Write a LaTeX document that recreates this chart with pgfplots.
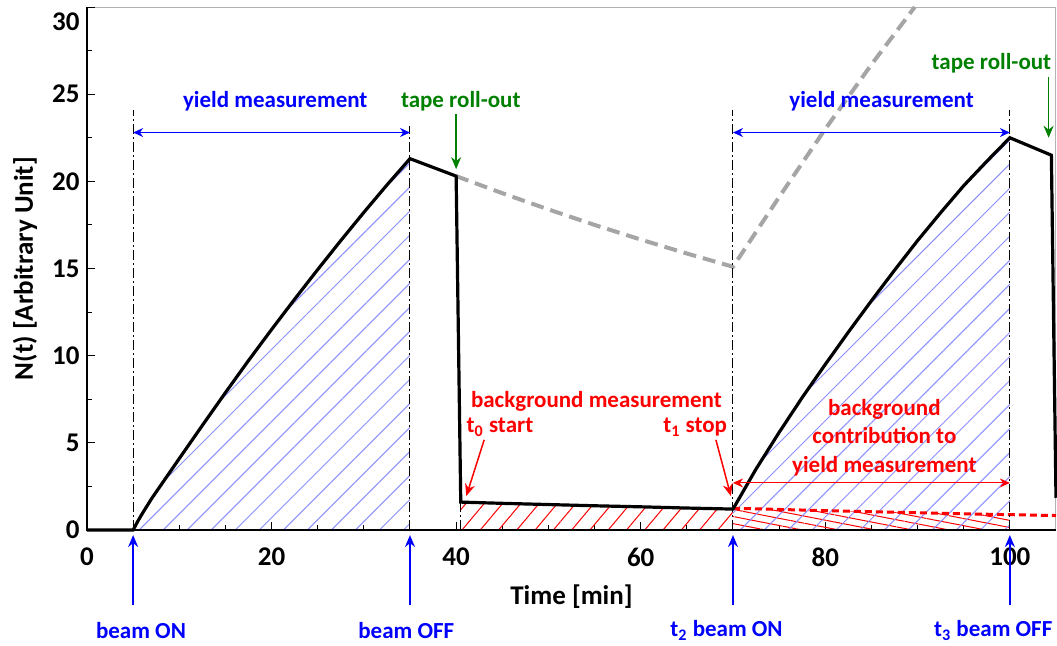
\documentclass[border=0pt]{standalone}
\usepackage{fontspec}
\setmainfont{Carlito}
\usepackage{pgfplots}
\pgfplotsset{compat=1.18}
\usetikzlibrary{patterns.meta,arrows.meta}
\definecolor{hblue}{RGB}{140,140,255}
\definecolor{dgreen}{RGB}{0,128,0}
\definecolor{dgray}{RGB}{165,165,165}
\definecolor{myred}{RGB}{255,0,0}
\definecolor{myblue}{RGB}{0,0,255}
\newcommand{\af}{\fontsize{11.5}{14.25}\selectfont\bfseries}
\begin{document}
\begin{tikzpicture}
\path[use as bounding box] (-43.5pt,-57.5pt) rectangle (485pt,265pt);
\begin{axis}[
  at={(0,0)}, anchor=south west,
  scale only axis, width=484.5pt, height=261.5pt,
  xmin=0, xmax=105, ymin=0, ymax=30,
  clip=false,
  axis line style={draw=gray!60, line width=0.5pt},
  xtick={0,20,...,100}, minor x tick num=3,
  ytick={0,5,...,25}, minor ytick={2.5,7.5,...,27.5},
  extra y ticks={30},
  extra y tick style={yticklabel style={yshift=-7.5pt}},
  tick pos=left, tick align=inside,
  major tick length=4pt, minor tick length=2.5pt,
  every tick/.style={black, line width=0.5pt},
  /pgf/number format/assume math mode=true,
  ticklabel style={font=\fontsize{13.5}{14}\selectfont\bfseries},
  xticklabel style={anchor=center, yshift=-13.5pt},
  yticklabel style={anchor=east, inner sep=0pt, xshift=-3.5pt},
  xlabel={Time [min]}, ylabel={N(t) [Arbitrary Unit]},
  label style={font=\fontsize{13.5}{14}\selectfont\bfseries},
  xlabel style={at={(axis description cs:0.5,0)}, anchor=center, yshift=-33.5pt},
  ylabel style={at={(axis description cs:-0.064,0.5)}, anchor=center},
]
% hatched areas
\addplot[draw=none, pattern={Lines[angle=45,distance=8.5pt,line width=0.5pt]}, pattern color=hblue]
 coordinates {(5,0) (5.5,0.5) (6,0.95) (7,1.8) (8.5,2.95) (10,4.1) (12.5,6.0) (15,7.88) (17.5,9.72) (20,11.5) (22.5,13.24) (25,14.94) (27.5,16.6) (30,18.22) (32.5,19.79) (35,21.3)} \closedcycle;
\addplot[draw=none, pattern={Lines[angle=50,distance=7pt,line width=0.5pt]}, pattern color=myred]
 coordinates {(40.5,1.6) (45,1.53) (50,1.46) (55,1.39) (60,1.33) (65,1.26) (70,1.2)} \closedcycle;
\addplot[draw=none, pattern={Lines[angle=-11,distance=3.5pt,line width=0.5pt]}, pattern color=myred]
 coordinates {(70,1.25) (75,1.18) (80,1.11) (85,1.05) (90,0.99) (95,0.93) (100,0.88)} \closedcycle;
\addplot[draw=none, pattern={Lines[angle=45,distance=8.5pt,line width=0.5pt]}, pattern color=hblue]
 coordinates {(70,1.2) (72.5,3.5) (75,5.6) (77.5,7.6) (80,9.5) (82.5,11.35) (85,13.15) (87.5,14.9) (90,16.6) (92.5,18.2) (95,19.75) (97.5,21.15) (100,22.5)} \closedcycle;
% gray dashed continuation
\addplot[dgray, line width=2pt, dash pattern=on 6.5pt off 3.5pt]
 coordinates {(40,20.3) (45,19.32) (50,18.39) (55,17.5) (60,16.66) (65,15.86) (70,15.1) (75,19.1) (80,23.0) (85,26.7) (89.7,30)};
% red dashed background
\addplot[myred, line width=1.5pt, dash pattern=on 3.5pt off 2pt]
 coordinates {(70,1.25) (75,1.18) (80,1.11) (85,1.05) (90,0.99) (95,0.93) (100,0.88) (105,0.83)};
% vertical dash-dot lines
\draw[black, line width=0.5pt, dash pattern=on 5pt off 1.5pt on 1pt off 1.5pt] (axis cs:5,0) -- (axis cs:5,24.1);
\draw[black, line width=0.5pt, dash pattern=on 5pt off 1.5pt on 1pt off 1.5pt] (axis cs:35,0) -- (axis cs:35,23.2);
\draw[black, line width=0.5pt, dash pattern=on 5pt off 1.5pt on 1pt off 1.5pt] (axis cs:40.5,0) -- (axis cs:40.5,1.6);
\draw[black, line width=0.5pt, dash pattern=on 5pt off 1.5pt on 1pt off 1.5pt] (axis cs:70,0) -- (axis cs:70,24.1);
\draw[black, line width=0.5pt, dash pattern=on 5pt off 1.5pt on 1pt off 1.5pt] (axis cs:100,0) -- (axis cs:100,24.1);
% main curve
\addplot[black, line width=1.6pt]
 coordinates {(0,0) (5,0) (5.5,0.5) (6,0.95) (7,1.8) (8.5,2.95) (10,4.1) (12.5,6.0) (15,7.88) (17.5,9.72) (20,11.5) (22.5,13.24) (25,14.94) (27.5,16.6) (30,18.22) (32.5,19.79) (35,21.3)
 (40,20.3) (40.5,1.6) (45,1.53) (50,1.46) (55,1.39) (60,1.33) (65,1.26) (70,1.2)
 (72.5,3.5) (75,5.6) (77.5,7.6) (80,9.5) (82.5,11.35) (85,13.15) (87.5,14.9) (90,16.6) (92.5,18.2) (95,19.75) (97.5,21.15) (100,22.5) (104.5,21.5) (105,1.85)};
% axis lines left/bottom in black
\draw[black, line width=0.75pt] (rel axis cs:0,1) -- (rel axis cs:0,0) -- (rel axis cs:1,0);
% yield measurement arrows
\draw[myblue, line width=0.6pt, {Stealth[length=5pt,width=4.5pt]}-{Stealth[length=5pt,width=4.5pt]}] (axis cs:5,22.8) -- (axis cs:35,22.8);
\draw[myblue, line width=0.6pt, {Stealth[length=5pt,width=4.5pt]}-{Stealth[length=5pt,width=4.5pt]}] (axis cs:70,22.8) -- (axis cs:100,22.8);
\node[myblue, font=\af, inner sep=0pt] at (axis cs:20.4,24.6) {yield measurement};
\node[myblue, font=\af, inner sep=0pt] at (axis cs:86.1,24.6) {yield measurement};
% tape roll-out
\node[dgreen, font=\af, inner sep=0pt] at (axis cs:40.5,24.6) {tape roll-out};
\node[dgreen, font=\af, inner sep=0pt] at (axis cs:98.0,26.8) {tape roll-out};
\draw[dgreen, line width=0.75pt, -{Stealth[length=6pt,width=5pt]}] (axis cs:40,23.85) -- (axis cs:40,20.7);
\draw[dgreen, line width=0.75pt, -{Stealth[length=6pt,width=5pt]}] (axis cs:104.2,26.0) -- (axis cs:104.2,22.5);
% background annotations
\node[myred, font=\af, inner sep=0pt] at (axis cs:55.2,7.37) {background measurement};
\node[myred, font=\af, inner sep=0pt] at (axis cs:44.75,5.88) {t\textsubscript{0} start};
\node[myred, font=\af, inner sep=0pt] at (axis cs:65.9,5.88) {t\textsubscript{1} stop};
\draw[myred, line width=0.75pt, -{Stealth[length=6pt,width=5pt]}] (axis cs:43.04,5.17) -- (axis cs:41.1,1.95);
\draw[myred, line width=0.75pt, -{Stealth[length=6pt,width=5pt]}] (axis cs:68.15,5.17) -- (axis cs:69.77,1.95);
\node[myred, font=\af, inner sep=0pt, align=center] at (axis cs:86.4,5.3) {background\\contribution to\\yield measurement};
\draw[myred, line width=0.5pt, {Stealth[length=5pt,width=4.5pt]}-{Stealth[length=5pt,width=4.5pt]}] (axis cs:70,2.7) -- (axis cs:100,2.7);
% beam arrows below the axis
\draw[myblue, line width=0.75pt, -{Stealth[length=6pt,width=5pt]}] (axis cs:5,-4.31) -- (axis cs:5,-0.29);
\draw[myblue, line width=0.75pt, -{Stealth[length=6pt,width=5pt]}] (axis cs:35,-4.31) -- (axis cs:35,-0.29);
\draw[myblue, line width=0.75pt, -{Stealth[length=6pt,width=5pt]}] (axis cs:70,-4.31) -- (axis cs:70,-0.29);
\draw[myblue, line width=0.75pt, -{Stealth[length=6pt,width=5pt]}] (axis cs:100,-4.31) -- (axis cs:100,-0.29);
\node[myblue, font=\af, inner sep=0pt] at (axis cs:5.85,-5.75) {beam ON};
\node[myblue, font=\af, inner sep=0pt] at (axis cs:34.6,-5.75) {beam OFF};
\node[myblue, font=\af, inner sep=0pt] at (axis cs:69.3,-5.75) {t\textsubscript{2} beam ON};
\node[myblue, font=\af, inner sep=0pt] at (axis cs:98.2,-5.75) {t\textsubscript{3} beam OFF};
\end{axis}
\end{tikzpicture}
\end{document}
